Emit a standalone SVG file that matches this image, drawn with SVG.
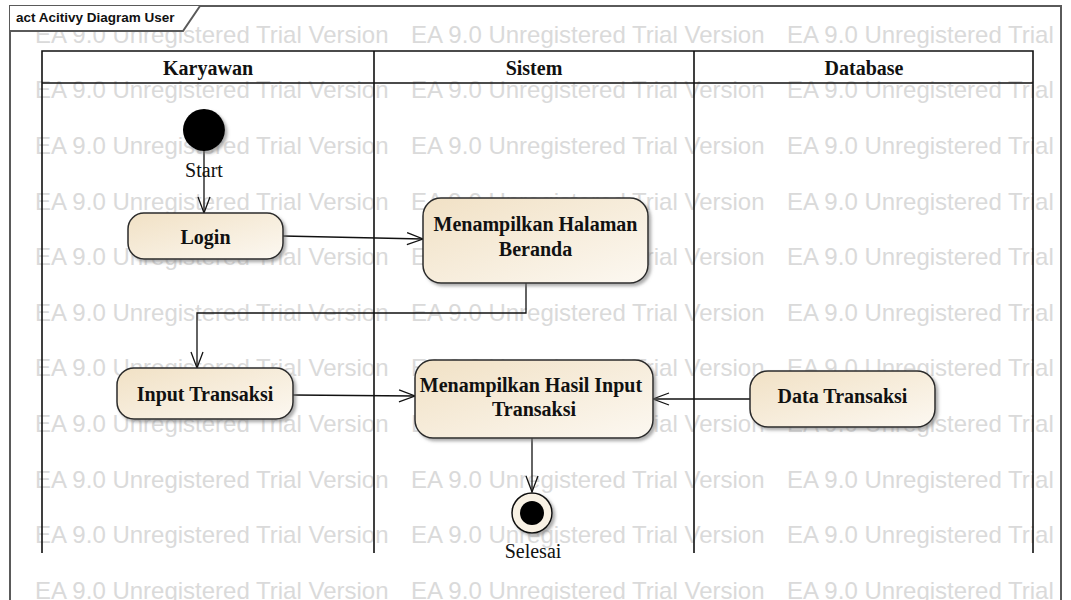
<svg xmlns="http://www.w3.org/2000/svg" width="1071" height="600" viewBox="0 0 1071 600">
  <style>
    .wm { font-family: "Liberation Sans", Arial, sans-serif; font-size: 24px; fill: #dadada; }
    .frame { fill: none; stroke: #5a5a5a; stroke-width: 2; }
    .lane { fill: none; stroke: #111; stroke-width: 1.6; }
    .lanehead { font-family: "Liberation Serif", "Times New Roman", serif; font-size: 20px; font-weight: bold; fill: #111; text-anchor: middle; }
    .action { fill: url(#actFill); stroke: #2b2b2b; stroke-width: 1.5; filter: url(#shadow); }
    .label { font-family: "Liberation Serif", "Times New Roman", serif; font-size: 20px; font-weight: bold; fill: #111; text-anchor: middle; }
    .caption { font-family: "Liberation Serif", "Times New Roman", serif; font-size: 20px; fill: #111; text-anchor: middle; }
    .flow { fill: none; stroke: #111; stroke-width: 1.3; marker-end: url(#open); }
    .title { font-family: "Liberation Sans", Arial, sans-serif; font-size: 13.5px; font-weight: bold; fill: #111; }
  </style>
  <defs>
    <linearGradient id="actFill" x1="0" y1="0" x2="1" y2="1">
      <stop offset="0" stop-color="#f1e1c5"/>
      <stop offset="1" stop-color="#fcf8f1"/>
    </linearGradient>
    <filter id="shadow" x="-10%" y="-10%" width="125%" height="130%">
      <feDropShadow dx="2.5" dy="2.5" stdDeviation="1.5" flood-color="#777" flood-opacity="0.6"/>
    </filter>
    <marker id="open" markerUnits="userSpaceOnUse" viewBox="-18 -8 20 16" markerWidth="20" markerHeight="16" refX="0" refY="0" orient="auto">
      <path d="M-16,-6 L0,0 L-16,6" fill="none" stroke="#111" stroke-width="1.3"/>
    </marker>
    <clipPath id="frameClip">
      <rect x="10" y="6" width="1051" height="600"/>
    </clipPath>
  </defs>

  <rect width="1071" height="600" fill="#ffffff"/>

  <!-- background watermark rows -->
  <g clip-path="url(#frameClip)">
    <text class="wm" x="35" y="42.5">EA 9.0 Unregistered Trial Version<tspan x="411">EA 9.0 Unregistered Trial Version</tspan><tspan x="787">EA 9.0 Unregistered Trial</tspan></text>
    <text class="wm" x="35" y="98">EA 9.0 Unregistered Trial Version<tspan x="411">EA 9.0 Unregistered Trial Version</tspan><tspan x="787">EA 9.0 Unregistered Trial</tspan></text>
    <text class="wm" x="35" y="153.5">EA 9.0 Unregistered Trial Version<tspan x="411">EA 9.0 Unregistered Trial Version</tspan><tspan x="787">EA 9.0 Unregistered Trial</tspan></text>
    <text class="wm" x="35" y="209.5">EA 9.0 Unregistered Trial Version<tspan x="411">EA 9.0 Unregistered Trial Version</tspan><tspan x="787">EA 9.0 Unregistered Trial</tspan></text>
    <text class="wm" x="35" y="264.5">EA 9.0 Unregistered Trial Version<tspan x="411">EA 9.0 Unregistered Trial Version</tspan><tspan x="787">EA 9.0 Unregistered Trial</tspan></text>
    <text class="wm" x="35" y="320.5">EA 9.0 Unregistered Trial Version<tspan x="411">EA 9.0 Unregistered Trial Version</tspan><tspan x="787">EA 9.0 Unregistered Trial</tspan></text>
    <text class="wm" x="35" y="375.5">EA 9.0 Unregistered Trial Version<tspan x="411">EA 9.0 Unregistered Trial Version</tspan><tspan x="787">EA 9.0 Unregistered Trial</tspan></text>
    <text class="wm" x="35" y="431.5">EA 9.0 Unregistered Trial Version<tspan x="411">EA 9.0 Unregistered Trial Version</tspan><tspan x="787">EA 9.0 Unregistered Trial</tspan></text>
    <text class="wm" x="35" y="487.5">EA 9.0 Unregistered Trial Version<tspan x="411">EA 9.0 Unregistered Trial Version</tspan><tspan x="787">EA 9.0 Unregistered Trial</tspan></text>
    <text class="wm" x="35" y="542.5">EA 9.0 Unregistered Trial Version<tspan x="411">EA 9.0 Unregistered Trial Version</tspan><tspan x="787">EA 9.0 Unregistered Trial</tspan></text>
    <text class="wm" x="35" y="598.5">EA 9.0 Unregistered Trial Version<tspan x="411">EA 9.0 Unregistered Trial Version</tspan><tspan x="787">EA 9.0 Unregistered Trial</tspan></text>
  </g>

  <!-- diagram frame with name tab -->
  <g id="frame">
    <rect class="frame" x="10" y="6" width="1051" height="610"/>
    <path d="M10,6 L200,6 L183,31 L10,31 Z" fill="#ffffff" stroke="none"/>
    <path class="frame" d="M10,31 L183,31 L200,6" stroke-width="1.3"/>
    <text class="title" x="16" y="22">act Acitivy Diagram User</text>
  </g>

  <!-- swimlanes -->
  <g id="lanes">
    <path class="lane" d="M42,553 L42,51 L1033,51 L1033,553 M42,83 L1033,83 M374,51 L374,553 M694,51 L694,553"/>
    <text class="lanehead" x="208" y="75">Karyawan</text>
    <text class="lanehead" x="534" y="75">Sistem</text>
    <text class="lanehead" x="864" y="75">Database</text>
  </g>

  <!-- control flows -->
  <g id="connectors">
    <path class="flow" d="M204,151 L204,213"/>
    <path class="flow" d="M283,236 L423,239"/>
    <path class="flow" d="M526,283 L526,313 L197,313 L197,368"/>
    <path class="flow" d="M293,395 L415,396"/>
    <path class="flow" d="M750,399 L653,399"/>
    <path class="flow" d="M532,438 L532,492"/>
  </g>

  <!-- nodes -->
  <g id="start">
    <circle cx="204" cy="130" r="21" fill="#000" filter="url(#shadow)"/>
    <text class="caption" x="204" y="177">Start</text>
  </g>

  <g id="login">
    <rect class="action" x="128" y="213" width="155" height="46" rx="16"/>
    <text class="label" x="205.5" y="244">Login</text>
  </g>

  <g id="halaman-beranda">
    <rect class="action" x="423" y="198" width="225" height="85" rx="18"/>
    <text class="label" x="535.5" y="231">Menampilkan Halaman</text>
    <text class="label" x="535.5" y="256">Beranda</text>
  </g>

  <g id="input-transaksi">
    <rect class="action" x="117" y="368" width="176" height="51" rx="17"/>
    <text class="label" x="205" y="401">Input Transaksi</text>
  </g>

  <g id="hasil-input">
    <rect class="action" x="415" y="360" width="238" height="78" rx="18"/>
    <text class="label" x="531" y="392">Menampilkan Hasil Input</text>
    <text class="label" x="534" y="416">Transaksi</text>
  </g>

  <g id="data-transaksi">
    <rect class="action" x="750" y="371" width="185" height="56" rx="18"/>
    <text class="label" x="842.5" y="403">Data Transaksi</text>
  </g>

  <g id="selesai">
    <circle cx="532" cy="513" r="20" fill="#f8f1e4" stroke="#111" stroke-width="1.5" filter="url(#shadow)"/>
    <circle cx="532" cy="513" r="12" fill="#000"/>
    <text class="caption" x="533" y="558">Selesai</text>
  </g>
</svg>
